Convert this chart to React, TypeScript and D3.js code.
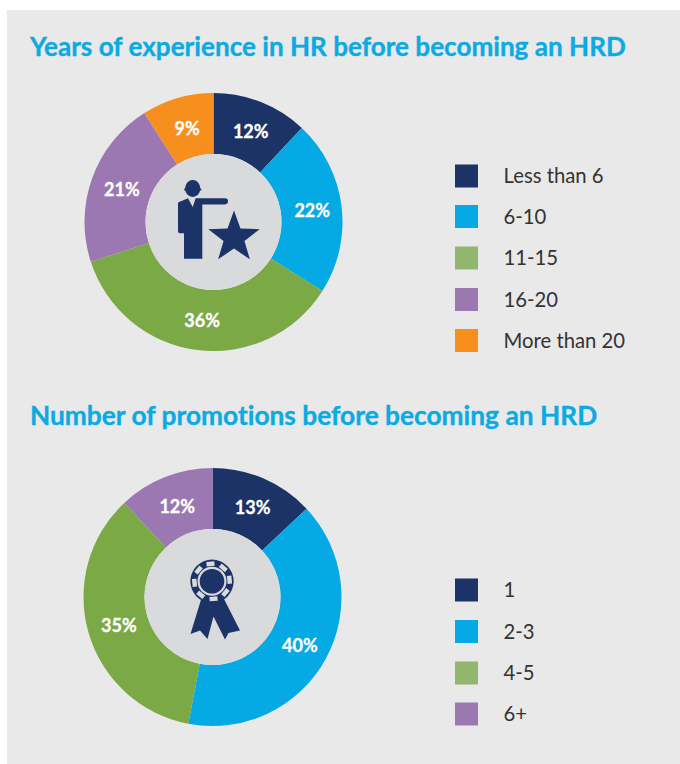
import React from "react";
import * as d3 from "d3";

// Survey figures, in percent
const experienceLabels = ["Less than 6", "6-10", "11-15", "16-20", "More than 20"];
const experienceValues = [12, 22, 36, 21, 9];
const promotionLabels = ["1", "2-3", "4-5", "6+"];
const promotionValues = [13, 40, 35, 12];

const sliceColors = ["#1c3368", "#05a9e3", "#7aa945", "#9c78b3", "#f78f1e"];
const swatchColors = ["#1c3368", "#05a9e3", "#93b66f", "#9c78b3", "#f78f1e"];
const NAVY = "#1c3368";
const DISC = "#d9dadc";
const PANEL = "#e9e9e9";
const FONT = "Lato, 'Open Sans', sans-serif";

const arcGen = d3.arc<d3.PieArcDatum<number>>().innerRadius(68).outerRadius(129);
const labelArc = d3.arc<d3.PieArcDatum<number>>().innerRadius(98.5).outerRadius(98.5);
const pieGen = d3.pie<number>().sort(null);

function Donut({ cx, cy, values }: { cx: number; cy: number; values: number[] }) {
  const slices = pieGen(values);
  return (
    <g transform={`translate(${cx},${cy})`}>
      {slices.map((s, i) => (
        <path key={i} d={arcGen(s) ?? ""} fill={sliceColors[i]} />
      ))}
      <circle r={68} fill={DISC} />
      {slices.map((s, i) => {
        const [x, y] = labelArc.centroid(s);
        return (
          <text key={i} x={x + 1} y={y + 0.8} dy="0.36em" textAnchor="middle" fill="#fff"
            stroke="#fff" strokeWidth={0.3}
            fontFamily={FONT} fontWeight={700} fontSize={18}>
            {values[i]}%
          </text>
        );
      })}
    </g>
  );
}

function Legend({ labels, ys }: { labels: string[]; ys: number[] }) {
  return (
    <g>
      {labels.map((label, i) => (
        <g key={label}>
          <rect x={455} y={ys[i] - 11.5} width={23} height={23} fill={swatchColors[i]} />
          <text x={503.5} y={ys[i]} dy="0.36em" fill="#333" fontFamily={FONT} fontSize={20.3}>
            {label}
          </text>
        </g>
      ))}
    </g>
  );
}

// Presenter pointing at a star
function PresenterIcon() {
  const star = d3.range(10).map((i) => {
    const r = i % 2 === 0 ? 27 : 11;
    const a = (i * Math.PI) / 5;
    return [234 + r * Math.sin(a), 237.5 - r * Math.cos(a)];
  });
  return (
    <g fill={NAVY}>
      <ellipse cx={192.7} cy={188.5} rx={7.6} ry={8.5} />
      <rect x={184} y={188.5} width={17.5} height={2} rx={1} />
      <path d="M178 202.5 L188 198.3 L192.7 207 L195.7 198.3 L225 198.3 A3 3 0 0 1 225 204.4 L202.3 204.4 L202.3 258.7 L184 258.7 L184 233.3 L180 233.3 Q178 233.3 178 231 Z" />
      <path d={`M${star.map((p) => p.join(",")).join("L")}Z`} />
    </g>
  );
}

// Rosette with two ribbon tails
function RosetteIcon() {
  const notchAngles = d3.range(8).map((i) => (i * 360) / 8 - 5);
  return (
    <g>
      <path fill={NAVY} d="M201.5 598 L190.5 634 L200 630.5 L207.5 639 L213.5 616.5 L225 639.5 L228.5 633 L240 630.5 L224 599 Z" />
      <circle cx={212} cy={581.3} r={21.7} fill={NAVY} />
      {notchAngles.map((a) => (
        <rect key={a} x={208} y={561.5} width={8} height={4.5} fill={DISC}
          transform={`rotate(${a} 212 581.3)`} />
      ))}
      <circle cx={212} cy={581.3} r={13.4} fill="none" stroke={DISC} strokeWidth={2.2} />
    </g>
  );
}

const titleStyle: React.CSSProperties = { fontVariantLigatures: "none" };

export default function App() {
  return (
    <svg width={680} height={764} style={{ position: "absolute", left: 0, top: 0, display: "block" }}>
      <rect width={680} height={764} fill="#fff" />
      <rect x={7} y={10} width={673} height={754} fill={PANEL} />
      <text x={30} y={55.5} fill="#0caae3" stroke="#0caae3" strokeWidth={0.35} style={titleStyle}
        fontFamily={FONT} fontWeight={700} fontSize={26.1}>
        Years of experience in HR before becoming an HRD
      </text>
      <text x={30} y={424.5} fill="#0caae3" stroke="#0caae3" strokeWidth={0.35} style={titleStyle}
        fontFamily={FONT} fontWeight={700} fontSize={26.3}>
        Number of promotions before becoming an HRD
      </text>
      <Donut cx={213.5} cy={222} values={experienceValues} />
      <PresenterIcon />
      <Legend labels={experienceLabels} ys={[176, 216.5, 258, 299.5, 340.5]} />
      <Donut cx={212.5} cy={597} values={promotionValues} />
      <RosetteIcon />
      <Legend labels={promotionLabels} ys={[590, 631.5, 673, 714]} />
    </svg>
  );
}
